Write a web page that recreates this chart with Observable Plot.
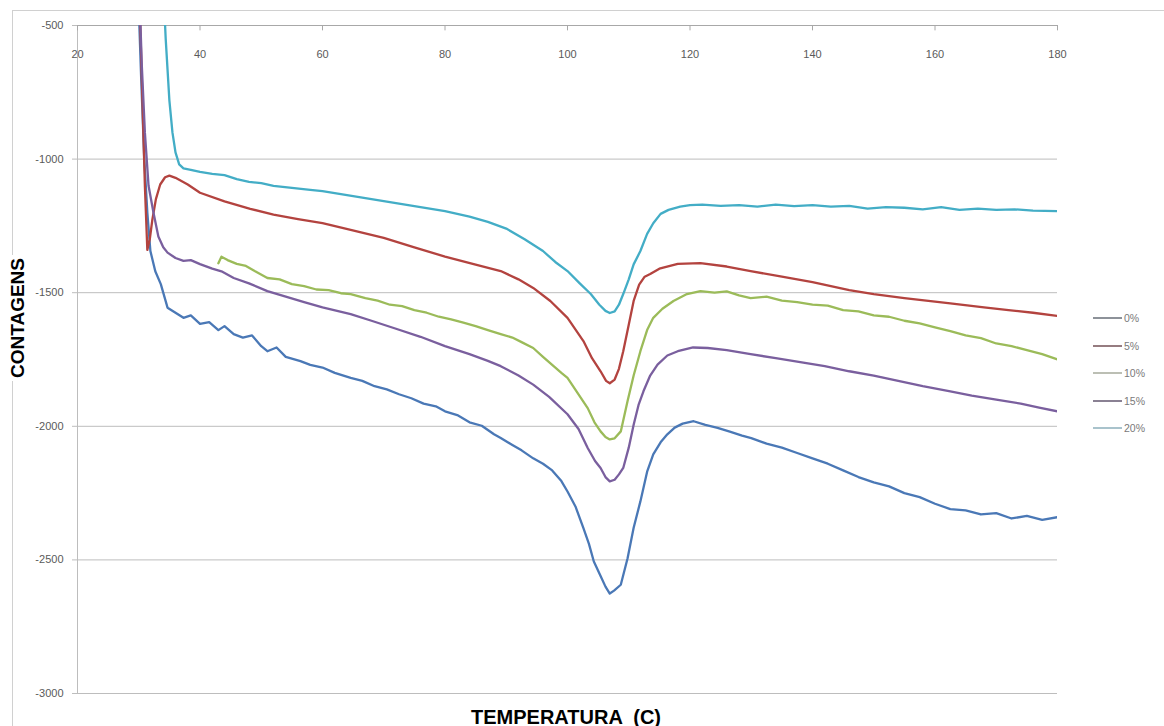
<!DOCTYPE html>
<html><head><meta charset="utf-8">
<script src="https://cdn.jsdelivr.net/npm/d3@7"></script>
<script src="https://cdn.jsdelivr.net/npm/@observablehq/plot@0.6"></script>
<style>
body{margin:0;background:#fff;font-family:"Liberation Sans",Arial,sans-serif;}
#wrap{position:relative;width:1164px;height:726px;overflow:hidden;background:#fff;}
#frame{position:absolute;left:12px;top:10px;width:1170px;height:760px;border:1px solid #d0d0d0;box-sizing:border-box;}
#chart{position:absolute;left:0;top:0;}
#ytitle{position:absolute;left:18px;top:318px;transform:translate(-50%,-50%) rotate(-90deg);font-weight:bold;font-size:19px;white-space:nowrap;color:#000;background:#fff;padding:0 3px;}
#xtitle{position:absolute;left:566px;top:717px;transform:translate(-50%,-50%);font-weight:bold;font-size:20px;white-space:pre;color:#000;}
#legend{position:absolute;left:1093px;top:310px;font-size:10.5px;color:#7a7a7a;}
.li{position:relative;height:27.6px;}
.li span.ln{position:absolute;left:0;top:7px;width:29px;height:2px;}
.li span.tx{position:absolute;left:31px;top:0;line-height:16px;}
</style></head>
<body><div id="wrap"><div id="frame"></div><div id="chart"></div>
<div id="ytitle">CONTAGENS</div><div id="xtitle">TEMPERATURA  (C)</div><div id="legend"></div></div>
<script>
const xTicks = [20, 40, 60, 80, 100, 120, 140, 160, 180];
const yTicks = [-500, -1000, -1500, -2000, -2500, -3000];
const seriesNames = ["0%", "5%", "10%", "15%", "20%"];
const seriesColors = ["#4a78b6", "#b3433f", "#9bbb59", "#7a5f9e", "#43adc6"];
const legendColors = ["#8d9299", "#967c80", "#bcbfb4", "#8a8193", "#a9c3cc"];

// [temperature, counts]
const s0 = [[29.8,-300],[30.4,-700],[30.9,-1000],[31.4,-1200],[31.9,-1344],[32.7,-1420],[33.6,-1468],[34.7,-1556],[36.0,-1575],[37.3,-1594],[38.5,-1585],[40.0,-1617],[41.5,-1610],[43.0,-1640],[44.0,-1625],[45.5,-1655],[47.0,-1668],[48.5,-1660],[50.0,-1700],[51.0,-1719],[52.5,-1705],[54.0,-1740],[56.4,-1756],[58.0,-1770],[60.0,-1780],[62.0,-1800],[64.6,-1819],[66.5,-1830],[68.5,-1850],[70.5,-1862],[72.5,-1880],[74.5,-1895],[76.5,-1915],[78.5,-1925],[80.0,-1944],[82.0,-1958],[84.0,-1985],[86.0,-1998],[88.0,-2030],[89.1,-2044],[91.0,-2070],[92.5,-2090],[94.4,-2120],[96.0,-2140],[97.5,-2165],[99.0,-2205],[100.0,-2244],[101.3,-2300],[102.6,-2381],[103.5,-2440],[104.3,-2506],[105.4,-2560],[106.2,-2600],[106.9,-2626],[107.6,-2615],[108.7,-2593],[109.8,-2495],[110.8,-2380],[111.9,-2281],[113.0,-2170],[114.0,-2105],[115.2,-2060],[116.3,-2030],[117.5,-2005],[118.8,-1990],[120.6,-1981],[122.5,-1995],[124.5,-2006],[126.5,-2020],[128.5,-2035],[130.0,-2044],[132.5,-2065],[135.0,-2080],[137.5,-2100],[140.0,-2120],[142.5,-2140],[145.0,-2165],[147.5,-2190],[150.0,-2210],[152.5,-2225],[155.0,-2250],[157.5,-2265],[160.0,-2290],[162.5,-2310],[165.0,-2315],[167.5,-2330],[170.0,-2325],[172.5,-2345],[175.0,-2335],[177.5,-2350],[180.0,-2340]];
const s5 = [[30.0,-300],[30.5,-700],[31.0,-1100],[31.4,-1340],[31.8,-1300],[32.2,-1230],[32.8,-1150],[33.5,-1095],[34.3,-1068],[35.0,-1062],[36.0,-1070],[38.0,-1095],[40.0,-1126],[44.0,-1158],[48.2,-1186],[52.0,-1208],[56.0,-1225],[60.0,-1240],[64.6,-1265],[70.0,-1295],[75.0,-1330],[80.0,-1365],[85.0,-1395],[89.1,-1419],[92.0,-1450],[94.4,-1482],[97.2,-1531],[100.0,-1594],[102.6,-1681],[104.0,-1745],[105.4,-1794],[106.3,-1830],[106.9,-1839],[107.7,-1825],[108.4,-1785],[109.1,-1719],[110.0,-1620],[110.8,-1531],[111.7,-1470],[112.6,-1440],[113.5,-1430],[115.0,-1410],[118.0,-1392],[121.7,-1389],[126.0,-1402],[129.9,-1419],[135.0,-1440],[140.0,-1460],[146.0,-1490],[150.0,-1505],[155.0,-1520],[162.5,-1540],[168.0,-1555],[172.0,-1565],[176.0,-1575],[180.0,-1587]];
const s10 = [[43.0,-1390],[43.5,-1365],[44.5,-1378],[46.0,-1392],[47.5,-1400],[49.0,-1420],[51.0,-1445],[53.0,-1450],[55.0,-1468],[57.0,-1475],[59.0,-1488],[61.0,-1490],[63.0,-1502],[64.6,-1505],[67.0,-1520],[69.0,-1530],[71.0,-1545],[73.0,-1550],[75.0,-1565],[77.0,-1575],[79.0,-1590],[81.0,-1600],[83.0,-1612],[85.0,-1625],[87.0,-1640],[89.1,-1655],[91.0,-1668],[92.5,-1685],[94.4,-1707],[96.0,-1740],[97.5,-1770],[99.0,-1800],[100.0,-1819],[101.5,-1870],[103.3,-1932],[104.4,-1985],[105.4,-2019],[106.2,-2040],[106.9,-2049],[107.7,-2045],[108.7,-2019],[109.8,-1906],[110.8,-1810],[111.9,-1719],[113.0,-1640],[114.0,-1594],[115.5,-1560],[117.3,-1531],[119.5,-1505],[121.7,-1494],[124.0,-1500],[126.0,-1495],[128.0,-1510],[129.9,-1520],[132.5,-1515],[135.0,-1530],[137.5,-1535],[140.0,-1545],[142.5,-1548],[145.0,-1565],[147.5,-1570],[150.0,-1585],[152.5,-1590],[155.0,-1605],[157.5,-1615],[160.0,-1630],[162.5,-1644],[165.0,-1660],[167.5,-1670],[170.0,-1690],[172.5,-1700],[175.0,-1715],[177.5,-1730],[180.0,-1750]];
const s15 = [[30.0,-300],[30.5,-650],[31.0,-900],[31.6,-1100],[32.4,-1200],[33.2,-1290],[34.0,-1330],[34.7,-1350],[36.0,-1370],[37.3,-1381],[38.5,-1378],[40.0,-1393],[42.0,-1410],[43.5,-1420],[45.5,-1445],[48.0,-1465],[51.0,-1494],[54.0,-1515],[57.0,-1535],[60.0,-1555],[64.6,-1580],[68.0,-1605],[72.0,-1635],[76.0,-1665],[80.0,-1700],[84.0,-1730],[87.0,-1755],[89.1,-1775],[92.0,-1810],[94.4,-1844],[97.0,-1890],[100.0,-1955],[101.8,-2010],[103.3,-2081],[104.5,-2130],[105.4,-2156],[106.2,-2190],[106.9,-2206],[107.7,-2200],[108.4,-2180],[109.1,-2156],[110.0,-2080],[110.8,-1994],[111.6,-1920],[112.4,-1869],[113.5,-1810],[114.7,-1769],[116.3,-1735],[118.0,-1719],[120.5,-1705],[122.9,-1707],[126.0,-1715],[129.9,-1730],[134.0,-1745],[138.0,-1760],[142.0,-1775],[146.0,-1794],[150.0,-1810],[154.0,-1830],[158.0,-1850],[162.5,-1869],[166.0,-1885],[170.0,-1900],[174.0,-1915],[177.0,-1930],[180.0,-1944]];
const s20 = [[33.9,-300],[34.4,-550],[35.0,-780],[35.5,-900],[36.0,-975],[36.6,-1020],[37.3,-1035],[38.5,-1040],[40.0,-1048],[42.0,-1055],[44.0,-1060],[46.0,-1075],[48.0,-1085],[50.0,-1090],[52.0,-1100],[55.0,-1108],[58.0,-1115],[60.0,-1120],[64.0,-1135],[68.0,-1150],[72.0,-1165],[76.0,-1180],[80.0,-1195],[84.0,-1215],[87.0,-1235],[90.0,-1260],[93.0,-1300],[96.0,-1344],[98.0,-1385],[100.0,-1419],[102.0,-1465],[103.8,-1505],[105.2,-1545],[106.2,-1568],[106.9,-1576],[107.7,-1570],[108.4,-1545],[109.1,-1505],[110.0,-1450],[110.8,-1394],[111.9,-1344],[113.0,-1280],[114.0,-1240],[115.2,-1205],[116.5,-1190],[118.4,-1178],[120.0,-1172],[122.0,-1170],[125.0,-1175],[128.0,-1172],[131.0,-1178],[134.0,-1170],[137.0,-1176],[140.0,-1172],[143.0,-1178],[146.0,-1175],[149.0,-1185],[152.0,-1180],[155.0,-1182],[158.0,-1188],[161.0,-1180],[164.0,-1190],[167.0,-1185],[170.0,-1190],[173.0,-1188],[176.0,-1193],[180.0,-1195]];

const seriesData = [s0, s5, s10, s15, s20];
const rows = seriesData.flatMap((s, i) => s.map(([t, v]) => ({serie: seriesNames[i], t, v})));

const chart = Plot.plot({
  width: 1164, height: 726,
  marginLeft: 77, marginRight: 107, marginTop: 25, marginBottom: 33,
  style: {background: "transparent", fontFamily: "'Liberation Sans', Arial, sans-serif", fontSize: "11px"},
  x: {domain: [20, 180]},
  y: {domain: [-3000, -500]},
  color: {domain: seriesNames, range: seriesColors},
  marks: [
    Plot.ruleY(yTicks, {y: d => d, stroke: "#bdbdbd"}),
    Plot.ruleX([20], {stroke: "#bdbdbd"}),
    Plot.ruleY([-500], {stroke: "#a8a8a8"}),
    Plot.axisY(yTicks, {anchor: "left", tickSize: 5, tickPadding: 9, label: null, stroke: "#bdbdbd", fill: "#5a5a5a", fontSize: 11, tickFormat: d => String(d)}),
    Plot.ruleX(xTicks, {x: d => d, y1: -500, y2: -520, stroke: "#a8a8a8"}),
    Plot.axisX(xTicks, {anchor: "top", tickSize: 0, tickPadding: 0, dy: 32, label: null, fill: "#5a5a5a", fontSize: 11, tickFormat: d => String(d)}),
    Plot.line(rows, {x: "t", y: "v", z: "serie", stroke: "serie", strokeWidth: 2.3, clip: true, curve: "linear"})
  ]
});
document.getElementById("chart").appendChild(chart);

const leg = document.getElementById("legend");
seriesNames.forEach((n, i) => {
  const d = document.createElement("div");
  d.className = "li";
  d.innerHTML = `<span class="ln" style="background:${legendColors[i]}"></span><span class="tx">${n}</span>`;
  leg.appendChild(d);
});
</script></body></html>
